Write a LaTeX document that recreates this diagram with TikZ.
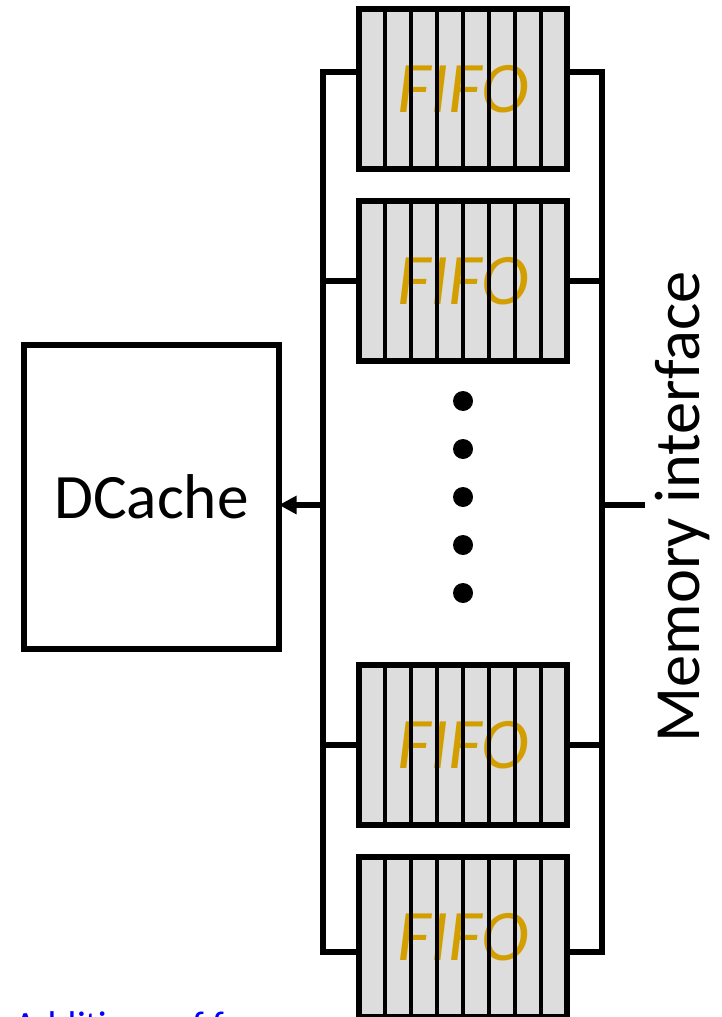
\documentclass[tikz,border=0pt]{standalone}
\usepackage{fontspec}
\setmainfont{Carlito}
\usepackage{tikz}
\usetikzlibrary{arrows.meta}
\definecolor{fifogold}{RGB}{210,158,0}
\definecolor{fifogray}{RGB}{221,221,221}

\begin{document}
\begin{tikzpicture}[x=0.03cm,y=-0.03cm,
    fifo/.style={draw, line width=5.4pt, fill=fifogray, outer sep=0pt, inner sep=0pt,
        minimum width=6.24cm, minimum height=4.8cm,
        font=\fontsize{62}{64}\selectfont\itshape, text=fifogold},
    divider/.style={line width=3.8pt},
    bus/.style={line width=4.6pt, line cap=rect},
    cachebox/.style={draw, line width=5.4pt, outer sep=0pt, minimum width=7.65cm, minimum height=9.12cm,
        font=\fontsize{54}{58}\selectfont}]
    \useasboundingbox (0,0) rectangle (721,1017);
    \clip (0,0) rectangle (721,1017);

    \node[fifo] (f1) at (463,89) {FIFO};
    \node[fifo] (f2) at (463,281) {FIFO};
    \node[fifo] (f3) at (463,745) {FIFO};
    \node[fifo] (f4) at (463,937) {FIFO};
    \foreach \f in {f1,f2,f3,f4} {
        \foreach \k in {1,...,7} {
            \draw[divider] ([xshift=\k*0.78cm]\f.north west) -- ([xshift=\k*0.78cm]\f.south west);
        }
    }

    \node[cachebox] (dc) at (151.5,497) {DCache};
    \node[rotate=90, font=\fontsize{55}{58}\selectfont] (mem) at (683,507) {Memory interface};

    \coordinate (l1) at (323,72);
    \coordinate (l4) at (323,952);
    \coordinate (r1) at (602,72);
    \coordinate (r4) at (602,952);
    \coordinate (bus) at (323,505);
    \coordinate (memend) at (645,505);

    \draw[bus] (f1.west |- l1) -- (l1) -- (l4) -- (f4.west |- l4);
    \draw[bus] (f1.east |- r1) -- (r1) -- (r4) -- (f4.east |- r4);
    \foreach \f in {f2,f3} {
        \draw[bus] (\f.west) -- (\f.west -| l1);
        \draw[bus] (\f.east) -- (\f.east -| r1);
    }
    \draw[bus, line cap=butt, -{Triangle[length=15pt,width=15pt]}] (bus) -- (bus -| dc.east);
    \draw[bus, line cap=butt] (bus -| r1) -- (memend);

    \foreach \y in {401,449,497,545,593} {
        \fill (463,\y) circle (0.3cm);
    }

    \node[anchor=base west, text=blue, font=\fontsize{33}{36}\selectfont] (note) at (10,1038) {Additions of f};
\end{tikzpicture}
\end{document}
